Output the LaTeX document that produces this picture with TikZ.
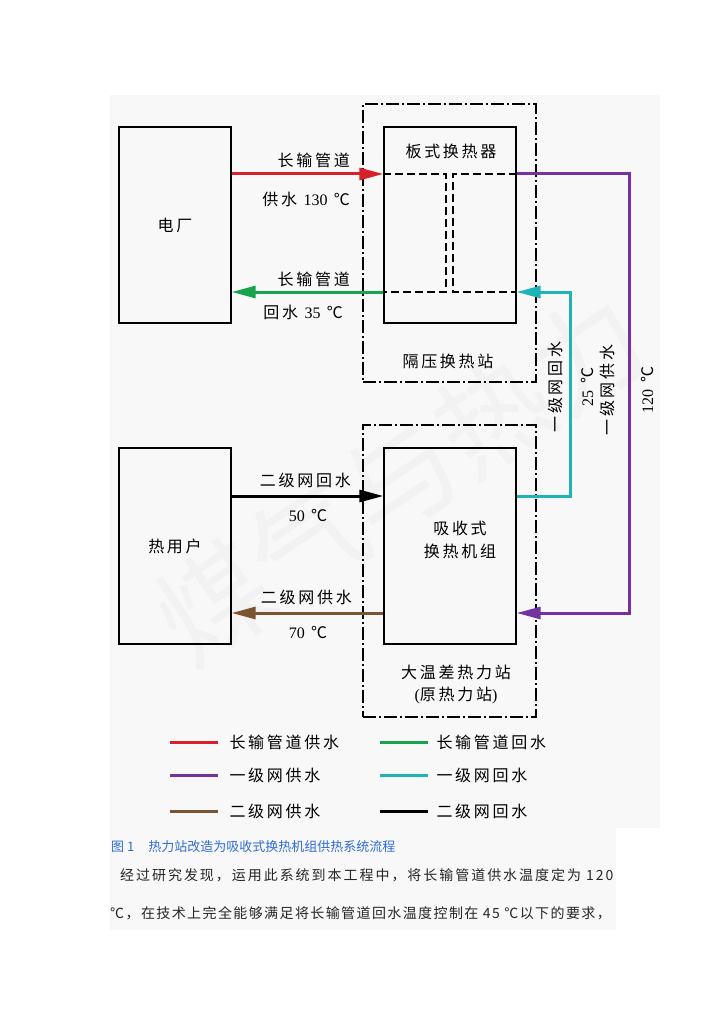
\documentclass[tikz,border=0pt]{standalone}
\usepackage{fontspec}
\setmainfont{Liberation Serif}
\newfontfamily\cjk[LetterSpace=17]{Noto Sans CJK SC}
\newfontfamily\cjkplain{Noto Sans CJK SC}
\newfontfamily\cjkbodyA[LetterSpace=14]{Noto Sans CJK SC}
\newfontfamily\cjkbodyB[LetterSpace=10]{Noto Sans CJK SC}
\usetikzlibrary{arrows.meta, positioning, calc}
\definecolor{csupply}{HTML}{D7222A}
\definecolor{creturn}{HTML}{16A54A}
\definecolor{cprim}{HTML}{7332A0}
\definecolor{cprimret}{HTML}{1DB3B8}
\definecolor{csec}{HTML}{7B5433}
\definecolor{ccap}{HTML}{2E6BD8}
\definecolor{cbg}{HTML}{F8F8F8}

\begin{document}
\begin{tikzpicture}[
    x=1pt, y=-1pt,
    font=\cjk\fontsize{16}{19}\selectfont,
    unit/.style={
        rectangle, draw=black, line width=1.4pt, minimum width=112pt,
        minimum height=196pt, inner sep=0pt
    },
    equip/.style={unit, minimum width=132pt},
    station/.style={
        rectangle, draw=black, line width=1.3pt, inner sep=0pt,
        dash pattern=on 13pt off 3pt on 2pt off 3pt, minimum width=173pt
    },
    pipe/.style={line width=3pt},
    flow/.style={pipe, -{Triangle[length=24pt,width=12pt]}},
    hxpath/.style={line width=1.4pt, dash pattern=on 8pt off 4pt},
    txt/.style={inner sep=0pt},
    key/.style={inner sep=0pt, anchor=west, text=black}
]
\useasboundingbox (0,0) rectangle (724,1024);
\fill[cbg] (110,95) rectangle (660,828);
\fill[cbg] (110,828) rectangle (616,930);

% watermark
\node[rotate=34, text=gray!10, font=\cjkplain\fontsize{112}{112}\selectfont] (wm) at (400,478) {煤气与热力};

% boxes
\node[unit]  (plant) at (175,225) {电厂};
\node[unit]  (user)  at (175,546) {热用户};
\node[equip] (phe)   at (450,225) {};
\node[equip] (ahu)   at (450,546) {};
\node[station, minimum height=278pt] (st1) at (449.5,243) {};
\node[station, minimum height=292pt] (st2) at (449.5,571) {};

\node[txt] (phelbl) at (451,151) {板式换热器};
\node[txt, align=center, font=\cjk\fontsize{16}{23}\selectfont] (ahulbl) at (460,540) {吸收式\\换热机组};
\node[txt] (st1lbl) at (448,361) {隔压换热站};
\node[txt, align=center, font=\cjk\fontsize{16}{22}\selectfont] (st2lbl) at (456,684)
  {大温差热力站\\{\rmfamily (}原热力站{\rmfamily )}};

% pipe levels
\coordinate (ySup) at (0,174);
\coordinate (yRet) at (0,292);
\coordinate (yBk)  at (0,496);
\coordinate (yBr)  at (0,613);
\coordinate (xPur) at (629,0);
\coordinate (xCy)  at (570,0);
\coordinate (xDl)  at (446,0);
\coordinate (xDr)  at (453,0);

% plate exchanger passes
\draw[hxpath] (phe.west |- ySup) -| (xDl |- yRet) -- (phe.west |- yRet);
\draw[hxpath] (phe.east |- ySup) -| (xDr |- yRet) -- (phe.east |- yRet);

\draw[flow, csupply]  (plant.east |- ySup) -- (phe.west |- ySup);
\draw[flow, creturn]  (phe.west |- yRet) -- (plant.east |- yRet);
\draw[flow, black]    (user.east |- yBk) -- (ahu.west |- yBk);
\draw[flow, csec]     (ahu.west |- yBr) -- (user.east |- yBr);
\draw[flow, cprim]    (phe.east |- ySup) -| (xPur |- yBr) -- (ahu.east |- yBr);
\draw[flow, cprimret] (ahu.east |- yBk) -| (xCy |- yRet) -- (phe.east |- yRet);

% pipe labels
\node[txt, anchor=east] (supA) at (350,160) {长输管道};
\node[txt, anchor=east] (supB) at (350,199) {供水 {\rmfamily 130} ℃};
\node[txt, anchor=east] (retA) at (350,279) {长输管道};
\node[txt, anchor=east] (retB) at (343,312) {回水 {\rmfamily 35} ℃};
\node[txt, anchor=east] (bkA)  at (351,480) {二级网回水};
\node[txt]              (bkB)  at (308,515) {{\rmfamily 50} ℃};
\node[txt, anchor=east] (brA)  at (352,597) {二级网供水};
\node[txt]              (brB)  at (308,632) {{\rmfamily 70} ℃};

\node[txt, rotate=90] (cyA) at (555,387) {一级网回水};
\node[txt, rotate=90] (cyB) at (587,387) {{\rmfamily 25} ℃};
\node[txt, rotate=90] (puA) at (607,390) {一级网供水};
\node[txt, rotate=90] (puB) at (647,390) {{\rmfamily 120} ℃};

% legend
\foreach \c/\t/\xx/\yy/\g in {csupply/长输管道供水/170/742/10, creturn/长输管道回水/380/742/7,
                             cprim/一级网供水/170/775/10, cprimret/一级网回水/380/775/7,
                             csec/二级网供水/170/811/10, black/二级网回水/380/811/7}
  \draw[pipe, \c] (\xx,\yy) -- ++(48,0) node[key, xshift=\g pt] (key-\c) {\t};

% caption and text
\node[anchor=west, inner sep=0pt, text=ccap, font=\cjkplain\fontsize{13}{15}\selectfont] (cap) at (111,847)
  {图 1\hspace{14pt}热力站改造为吸收式换热机组供热系统流程};
\node[anchor=west, inner sep=0pt, text=black!85, font=\cjkbodyA\fontsize{14}{16}\selectfont] (para1) at (120,875)
  {经过研究发现，运用此系统到本工程中，将长输管道供水温度定为 120};
\node[anchor=west, inner sep=0pt, text=black!85, font=\cjkbodyB\fontsize{14}{16}\selectfont] (para2) at (110,913)
  {℃，在技术上完全能够满足将长输管道回水温度控制在 45 ℃以下的要求，};
\end{tikzpicture}
\end{document}
